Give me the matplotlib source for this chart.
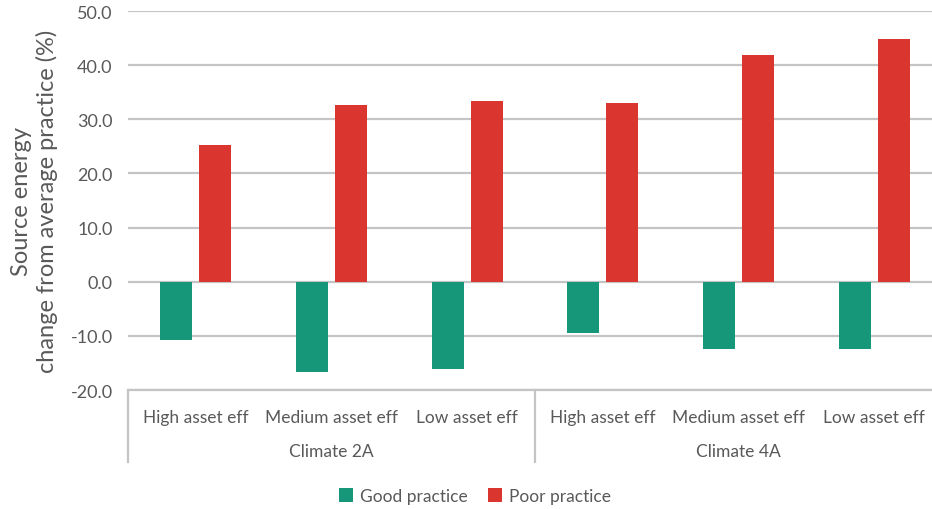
import matplotlib
matplotlib.use('Agg')
import matplotlib.pyplot as plt
import numpy as np

plt.rcParams['font.family'] = ['Lato', 'DejaVu Sans']

# Data
groups = ['Climate 2A', 'Climate 4A']
categories = ['High asset eff', 'Medium asset eff', 'Low asset eff',
              'High asset eff', 'Medium asset eff', 'Low asset eff']
good_practice = [-10.7, -16.7, -16.1, -9.4, -12.4, -12.4]
poor_practice = [25.2, 32.6, 33.3, 33.1, 41.9, 44.8]
yticks = [-20, -10, 0, 10, 20, 30, 40, 50]

green = '#16977A'
red = '#DB3530'
text_col = '#595959'
grid_col = '#C4C4C4'

fig = plt.figure(figsize=(9.32, 5.10), dpi=100)
W, H = 932, 510
ax = fig.add_axes([128 / W, 1 - 391 / H, (942 - 128) / W, (391 - 12) / H])

x = np.arange(len(categories))
bw = 0.236
off = 0.144
ax.bar(x - off, good_practice, bw, color=green, label='Good practice', zorder=3)
ax.bar(x + off, poor_practice, bw, color=red, label='Poor practice', zorder=3)

ax.set_xlim(-0.5, len(categories) - 0.5)
ax.set_ylim(-20, 50)
ax.set_yticks(yticks)
ax.set_yticklabels(['%.1f' % v for v in yticks])
ax.yaxis.grid(True, color=grid_col, linewidth=1.6, zorder=0)
ax.set_axisbelow(True)
for s in ['top', 'right', 'left']:
    ax.spines[s].set_visible(False)
ax.spines['bottom'].set_color(grid_col)
ax.spines['bottom'].set_linewidth(1.6)
ax.tick_params(axis='y', length=0, pad=11, labelsize=13, labelcolor=text_col)
ax.set_xticks([])

ax.set_ylabel('Source energy\nchange from average practice (%)',
              fontsize=17, color=text_col, labelpad=9, linespacing=1.2)

# multi-level category axis
tr = ax.get_xaxis_transform()
for i, c in enumerate(categories):
    ax.text(i, -0.071, c, transform=tr, ha='center', va='center',
            fontsize=12.5, color=text_col)
for g, name in enumerate(groups):
    ax.text(g * 3 + 1, -0.161, name, transform=tr, ha='center', va='center',
            fontsize=12.5, color=text_col)
for xb in [-0.5, 2.5, 5.5]:
    ax.plot([xb, xb], [0, -0.19], transform=tr, color=grid_col,
            linewidth=1.6, clip_on=False)

fig.legend(loc='center', bbox_to_anchor=(475 / W, 1 - 497 / H), ncol=2,
           frameon=False, fontsize=12.5, handlelength=0.8, handleheight=0.8,
           handletextpad=0.4, columnspacing=1.2, labelcolor=text_col)

fig.savefig('out.png', dpi=100)
